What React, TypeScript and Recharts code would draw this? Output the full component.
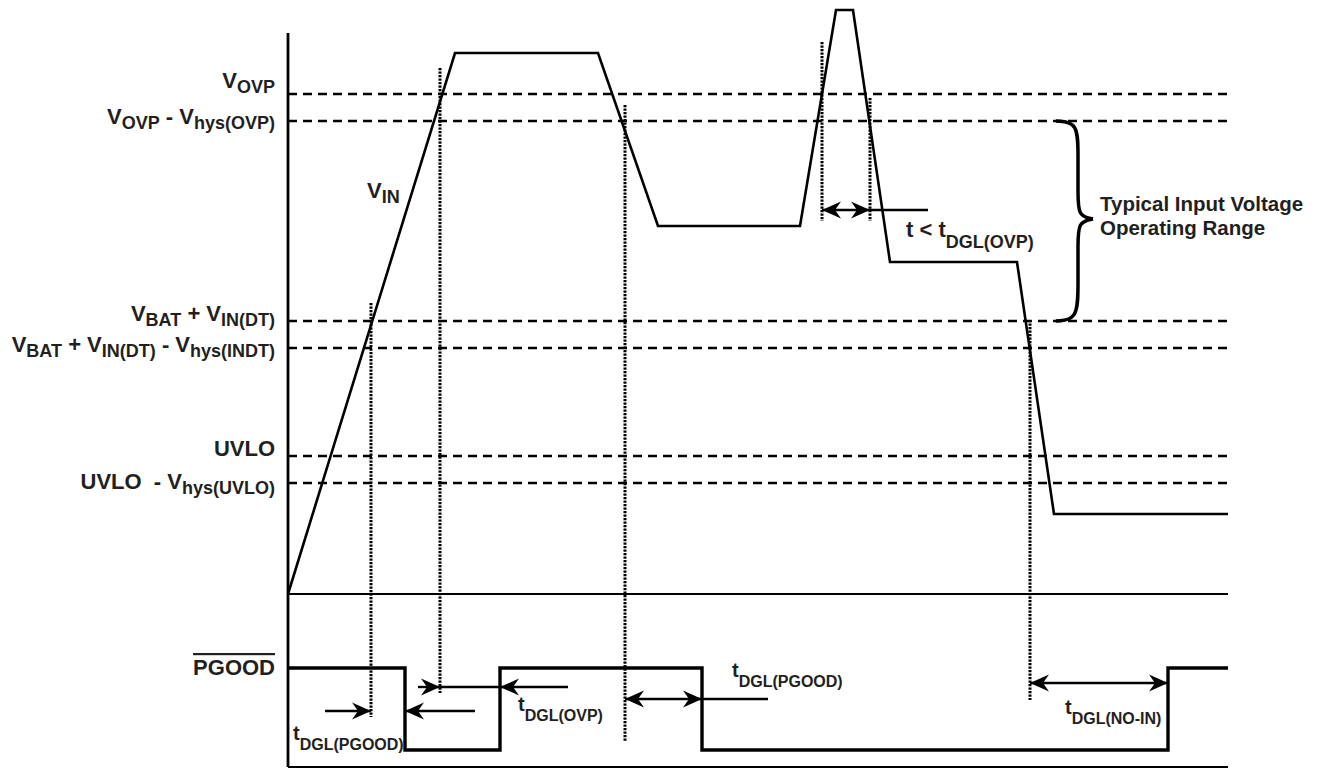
import React from 'react';
import { ComposedChart, Line, XAxis, YAxis, ReferenceLine, ReferenceDot } from 'recharts';

// time axis in arbitrary units, voltage axis in arbitrary units (0 = VIN ground)
const VIN_TIME = [0, 167, 310, 370, 512, 548, 565, 602, 729, 766, 940];
const VIN_LEVEL = [0, 541, 541, 368, 368, 584, 584, 332, 332, 80, 80];

// PGOOD (active low) drawn in the lower band of the same axis
const PGOOD_TIME = [0, 117, 212, 414, 880, 940];
const PGOOD_STATE = [1, 0, 1, 0, 1, 1];
const PGOOD_HIGH = -74;
const PGOOD_LOW = -156;
const LOWER_BASE = -173;
const AXIS_TOP = 561;

type Part = [string, boolean];

const THRESHOLDS = [500, 473, 273, 246, 138, 111];
const THRESHOLD_LABELS: Part[][] = [
  [['V', false], ['OVP', true]],
  [['V', false], ['OVP', true], [' - V', false], ['hys(OVP)', true]],
  [['V', false], ['BAT', true], [' + V', false], ['IN(DT)', true]],
  [['V', false], ['BAT', true], [' + V', false], ['IN(DT)', true], [' - V', false], ['hys(INDT)', true]],
  [['UVLO', false]],
  [['UVLO  - V', false], ['hys(UVLO)', true]],
];

// dotted markers where VIN crosses a threshold
const MARKER_TIME = [83, 152, 337, 534, 582, 742];
const MARKER_TOP = [291, 526, 489, 552, 496, 274];
const MARKER_BOTTOM = [-123, -99, -148, 373, 373, -106];

// timing arrows
const ARROW_FROM = [37, 187, 130, 152, 280, 337, 414, 742, 534, 582];
const ARROW_TO = [83, 117, 152, 212, 212, 414, 480, 880, 582, 640];
const ARROW_LEVEL = [-117, -117, -93, -93, -93, -105, -105, -89, 384, 384];
const ARROW_HEADS = ['end', 'end', 'end', 'none', 'end', 'both', 'none', 'both', 'both', 'none'];

// brace for the operating range
const BRACE_UPPER_T = [768, 790, 790, 790, 790, 805];
const BRACE_UPPER_V = [473, 472, 440, 400, 378, 375];
const BRACE_LOWER_T = [805, 790, 790, 790, 790, 768];
const BRACE_LOWER_V = [375, 372, 350, 310, 274, 273];

// free-standing texts: anchor time, anchor level, kind, parts
const NOTE_TIME = [79, 618, 812, 812, 5, 230, 444, 777, 0];
const NOTE_LEVEL = [396, 357, 383, 359, -146, -117, -83, -120, -81];
const NOTE_KIND = ['signal', 'big', 'note', 'note', 'timing', 'timing', 'timing', 'timing', 'pgood'];
const NOTE_PARTS: Part[][] = [
  [['V', false], ['IN', true]],
  [['t < t', false], ['DGL(OVP)', true]],
  [['Typical Input Voltage', false]],
  [['Operating Range', false]],
  [['t', false], ['DGL(PGOOD)', true]],
  [['t', false], ['DGL(OVP)', true]],
  [['t', false], ['DGL(PGOOD)', true]],
  [['t', false], ['DGL(NO-IN)', true]],
  [['PGOOD', false]],
];

const FONT = '"Liberation Sans", Arial, Helvetica, sans-serif';
const INK = '#231f20';
const LEVEL_LABEL_DY = [-6, 3, 0, 4, 0, 6];
const KIND_STYLE: Record<string, any> = {
  level: { size: 22, subSize: 18, subDy: 5, anchor: 'end', dx: -13 },
  signal: { size: 22, subSize: 18, subDy: 5, anchor: 'start', dx: 0 },
  big: { size: 22, subSize: 18, subDy: 11, anchor: 'start', dx: 0 },
  note: { size: 20.5, subSize: 16, subDy: 0, anchor: 'start', dx: 0 },
  timing: { size: 20, subSize: 16, subDy: 10, anchor: 'start', dx: 0 },
  pgood: { size: 22, subSize: 18, subDy: 0, anchor: 'end', dx: -13, overline: true },
};

const vinData = VIN_TIME.map((t, i) => ({ t, v: VIN_LEVEL[i] }));
const pgoodData = PGOOD_TIME.map((t, i) => ({ t, v: PGOOD_STATE[i] ? PGOOD_HIGH : PGOOD_LOW }));
const braceUpper = BRACE_UPPER_T.map((t, i) => ({ t, v: BRACE_UPPER_V[i] }));
const braceLower = BRACE_LOWER_T.map((t, i) => ({ t, v: BRACE_LOWER_V[i] }));

const RichText = ({ x, y, parts, kind, dy = 0 }: any) => {
  const st = KIND_STYLE[kind];
  let down = false;
  return (
    <text
      x={x + st.dx}
      y={y + dy}
      textAnchor={st.anchor}
      fontFamily={FONT}
      fontWeight="bold"
      fontSize={st.size}
      fill={INK}
      textDecoration={st.overline ? 'overline' : undefined}
      style={{ whiteSpace: 'pre' }}
    >
      {parts.map(([s, sub]: Part, i: number) => {
        let d = 0;
        if (sub && !down) { d = st.subDy; down = true; }
        else if (!sub && down) { d = -st.subDy; down = false; }
        return (
          <tspan key={i} dy={d} fontSize={sub ? st.subSize : st.size}>{s}</tspan>
        );
      })}
    </text>
  );
};

const arrowShape = (heads: string) => (p: any) => {
  const { x1, y1, x2, y2 } = p;
  const s = x2 >= x1 ? 1 : -1;
  const head = (x: number, y: number, dir: number) =>
    `${x},${y} ${x - dir * 19},${y - 8.5} ${x - dir * 13},${y} ${x - dir * 19},${y + 8.5}`;
  return (
    <g>
      <line x1={x1} y1={y1} x2={x2} y2={y2} stroke="#000" strokeWidth={2.4} />
      {(heads === 'end' || heads === 'both') && <polygon points={head(x2, y2, s)} fill="#000" />}
      {heads === 'both' && <polygon points={head(x1, y1, -s)} fill="#000" />}
    </g>
  );
};

export default function App() {
  return (
    <div style={{ position: 'absolute', left: 0, top: 0, background: '#fff' }}>
      <ComposedChart width={1324} height={769} margin={{ top: 0, right: 96, bottom: 0, left: 288 }}>
        <XAxis type="number" dataKey="t" domain={[0, 940]} hide />
        <YAxis type="number" domain={[LOWER_BASE - 2, 594]} hide />

        {THRESHOLDS.map((lv, i) => (
          <ReferenceLine key={`th-${i}`} y={lv} stroke="#000" strokeWidth={2.5} strokeDasharray="9 6" />
        ))}

        <ReferenceLine y={0} stroke="#000" strokeWidth={2} />
        <ReferenceLine y={LOWER_BASE} stroke="#000" strokeWidth={2} />
        <ReferenceLine segment={[{ x: 0, y: AXIS_TOP }, { x: 0, y: LOWER_BASE }]} stroke="#000" strokeWidth={2.8} />

        {MARKER_TIME.map((t, i) => (
          <ReferenceLine
            key={`mk-${i}`}
            segment={[{ x: t, y: MARKER_TOP[i] }, { x: t, y: MARKER_BOTTOM[i] }]}
            stroke="#000"
            strokeWidth={3}
            strokeDasharray="2.2 1.3"
          />
        ))}

        {ARROW_FROM.map((t, i) => (
          <ReferenceLine
            key={`ar-${i}`}
            segment={[{ x: t, y: ARROW_LEVEL[i] }, { x: ARROW_TO[i], y: ARROW_LEVEL[i] }]}
            shape={arrowShape(ARROW_HEADS[i])}
          />
        ))}

        <Line data={vinData} dataKey="v" type="linear" stroke="#000" strokeWidth={2.6} dot={false} isAnimationActive={false} />
        <Line data={pgoodData} dataKey="v" type="stepAfter" stroke="#000" strokeWidth={3.4} dot={false} isAnimationActive={false} />
        <Line data={braceUpper} dataKey="v" type="basis" stroke="#000" strokeWidth={3.5} dot={false} isAnimationActive={false} />
        <Line data={braceLower} dataKey="v" type="basis" stroke="#000" strokeWidth={3.5} dot={false} isAnimationActive={false} />

        {THRESHOLDS.map((lv, i) => (
          <ReferenceDot
            key={`tl-${i}`}
            x={0}
            y={lv}
            shape={(p: any) => (
              <RichText x={p.cx} y={p.cy} dy={LEVEL_LABEL_DY[i]} parts={THRESHOLD_LABELS[i]} kind="level" />
            )}
          />
        ))}

        {NOTE_TIME.map((t, i) => (
          <ReferenceDot
            key={`nt-${i}`}
            x={t}
            y={NOTE_LEVEL[i]}
            shape={(p: any) => <RichText x={p.cx} y={p.cy} parts={NOTE_PARTS[i]} kind={NOTE_KIND[i]} />}
          />
        ))}
      </ComposedChart>
    </div>
  );
}
